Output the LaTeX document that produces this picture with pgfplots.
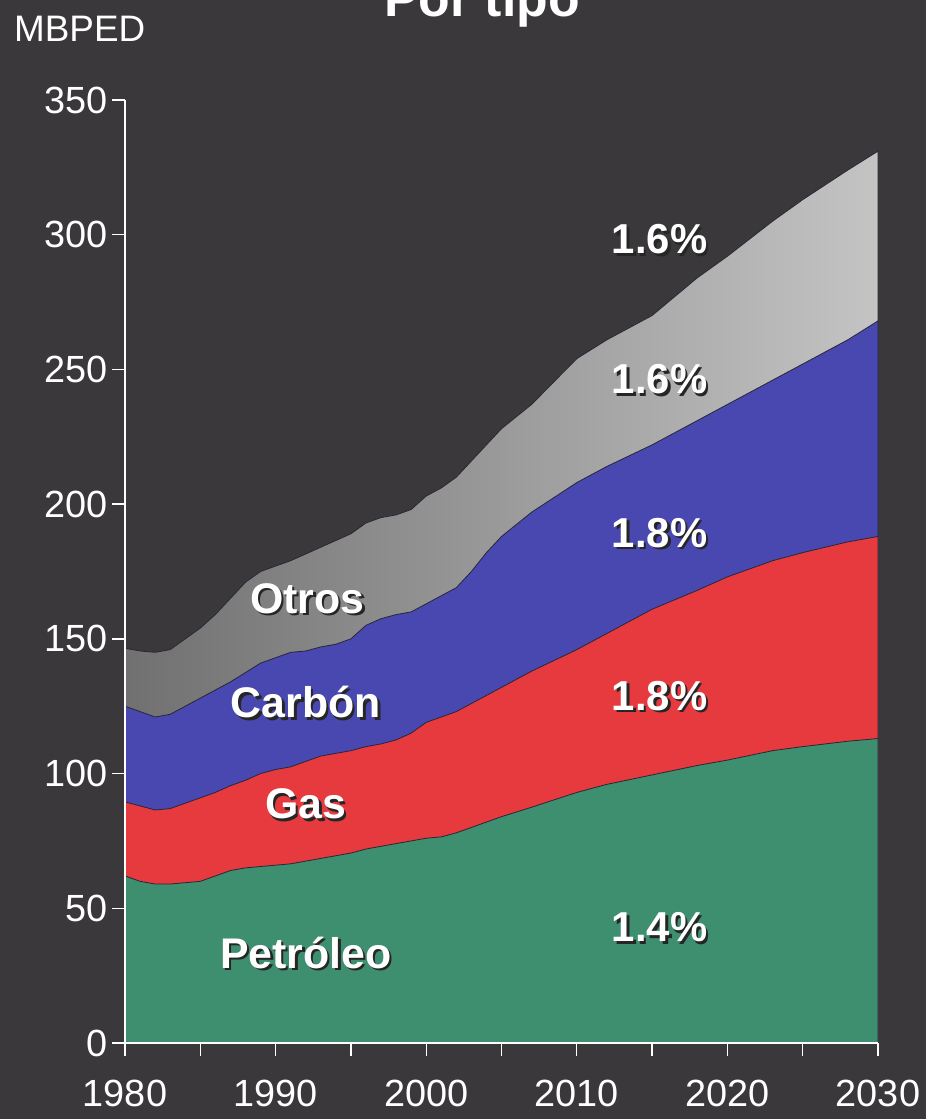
\documentclass[border=0pt]{standalone}
\usepackage{fontspec}
\setmainfont{Liberation Sans}
\usepackage{pgfplots}
\usepackage{pgfplotstable}
\pgfplotsset{compat=1.18}
\definecolor{bg}{RGB}{58,56,58}
\definecolor{oilgreen}{RGB}{62,142,112}
\definecolor{gasred}{RGB}{230,58,62}
\definecolor{coalblue}{RGB}{72,72,176}
\definecolor{graylo}{RGB}{112,112,112}
\definecolor{grayhi}{RGB}{196,196,196}
\definecolor{edge}{RGB}{40,38,55}

% cumulative tops of the stacked areas (MBPED)
\pgfplotstableread{
year oil gas coal other
1980 62 89.5 125 146.5
1981 60 88 123 145.5
1982 59 86.5 121 145
1983 59 87 122 146
1984 59.5 89 125 150
1985 60 91 128 154
1986 62 93 131 159
1987 64 95.5 134 165
1988 65 97.5 137.5 171
1989 65.5 100 141 175
1990 66 101.5 143 177
1991 66.5 102.5 145 179
1992 67.5 104.5 145.5 181.5
1993 68.5 106.5 147 184
1994 69.5 107.5 148 186.5
1995 70.5 108.5 150 189
1996 72 110 155 193
1997 73 111 157.5 195
1998 74 112.5 159 196
1999 75 115 160 198
2000 76 119 163 203
2001 76.5 121 166 206
2002 78 123 169 210
2003 80 126 175 216
2004 82 129 182 222
2005 84 132 188 228
2007 87.5 138 197 237
2010 93 146 208 254
2012 96 152 214 261
2015 99.5 161 222 270
2018 103 168 231 284
2020 105 173 237 292
2023 108.5 179 246 305
2025 110 182 252 313
2028 112 186 261 324
2030 113 188 268 331
}\datatable

\newcommand{\lbl}[4]{%
  \node[anchor=base, font=\fontsize{#4}{#4}\selectfont\bfseries, text=black!85, xshift=2.5bp, yshift=-2.5bp] at (axis cs:#1,#2) {#3};
  \node[anchor=base, font=\fontsize{#4}{#4}\selectfont\bfseries, text=white] at (axis cs:#1,#2) {#3};
}

\begin{document}
\begin{tikzpicture}
\fill[bg] (0,0) rectangle (926bp,1119bp);
\node[anchor=base, font=\fontsize{52}{52}\selectfont\bfseries, text=white] at (482bp,1102bp) {Por tipo};
\node[anchor=base west, font=\fontsize{37}{37}\selectfont, text=white, inner sep=0pt] at (14bp,1077bp) {MBPED};
\begin{axis}[
  at={(125bp,76bp)}, anchor=south west,
  scale only axis, width=753bp, height=943bp,
  xmin=1980, xmax=2030, ymin=0, ymax=350,
  axis x line*=bottom, axis y line*=left,
  axis line style={white, line width=1.3bp, -},
  tick style={white, line width=1.3bp},
  major tick length=13bp, minor tick length=13bp,
  tick align=outside,
  xtick={1980,1990,...,2030},
  minor xtick={1985,1995,...,2025},
  ytick={0,50,...,350},
  ticklabel style={font=\fontsize{38}{38}\selectfont, text=white,
    /pgf/number format/assume math mode=true, /pgf/number format/1000 sep={}},
  yticklabel style={xshift=-1bp},
  xticklabel style={yshift=-21bp},
  axis on top,
]
\addplot[draw=edge, line width=0.8bp, left color=graylo, right color=grayhi] table[x=year,y=other]{\datatable} \closedcycle;
\addplot[draw=edge, line width=0.8bp, fill=coalblue] table[x=year,y=coal]{\datatable} \closedcycle;
\addplot[draw=edge, line width=0.8bp, fill=gasred] table[x=year,y=gas]{\datatable} \closedcycle;
\addplot[draw=edge, line width=0.8bp, fill=oilgreen] table[x=year,y=oil]{\datatable} \closedcycle;

\lbl{1992.1}{159.5}{Otros}{43}
\lbl{1992.0}{120.8}{Carbón}{43}
\lbl{1992.0}{83.3}{Gas}{43}
\lbl{1992.0}{27.8}{Petróleo}{43}
\lbl{2015.5}{293}{1.6\%}{42}
\lbl{2015.5}{241}{1.6\%}{42}
\lbl{2015.5}{184}{1.8\%}{42}
\lbl{2015.5}{123.5}{1.8\%}{42}
\lbl{2015.5}{37.5}{1.4\%}{42}
\end{axis}
\pgfresetboundingbox
\path[use as bounding box] (0,0) rectangle (926bp,1119bp);
\end{tikzpicture}
\end{document}
